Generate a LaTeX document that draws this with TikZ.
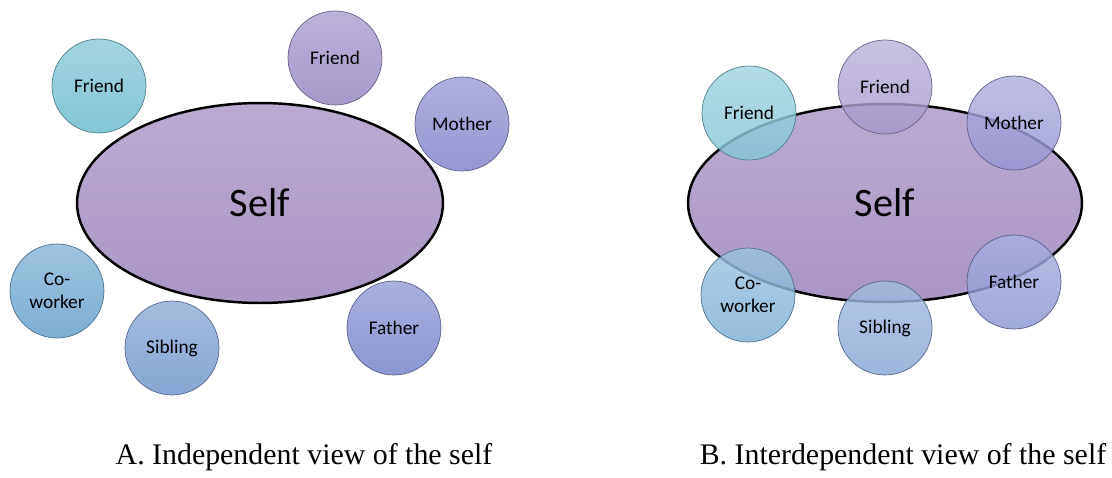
\documentclass[tikz,border=0pt]{standalone}
\usepackage{fontspec}
\setmainfont{Liberation Serif}
\newfontfamily\calibri{Carlito}
\usetikzlibrary{shapes.geometric}

\definecolor{selfcol}{RGB}{170,150,196}
\definecolor{tealcol}{RGB}{130,198,212}
\definecolor{friendcol}{RGB}{165,153,203}
\definecolor{mothercol}{RGB}{150,150,212}
\definecolor{coworkcol}{RGB}{125,175,212}
\definecolor{siblingcol}{RGB}{135,165,212}
\definecolor{fathercol}{RGB}{140,150,212}

\begin{document}
\begin{tikzpicture}[x=0.02cm, y=-0.02cm,
        every node/.append style={font=\calibri\fontsize{11}{13}\selectfont, text=black},
        every circle node/.append style={minimum size=1.88cm, inner sep=0pt, align=center}]
      \tikzstyle{self} = [ellipse, draw=black, line width=1.4pt,
                          top color=selfcol!80!white, bottom color=selfcol,
                          font=\calibri\fontsize{23}{26}\selectfont]
      \tikzstyle{other} = [circle, draw=#1!65!black, line width=0.4pt,
                           top color=#1!75!white, bottom color=#1]
      \tikzstyle{caption} = [font=\fontsize{17}{20}\selectfont, text=black, anchor=base]
      \useasboundingbox (0,0) rectangle (1112,477);

      % A. independent
      \node (selfA) [self, minimum width=7.32cm, minimum height=4cm] at (260,203) {Self};
      \node (friendtA) [other=tealcol] at (99,86) {Friend};
      \node (friendA) [other=friendcol] at (335,58) {Friend};
      \node (motherA) [other=mothercol] at (462,124) {Mother};
      \node (coworkA) [other=coworkcol] at (57,291) {Co-\\worker};
      \node (siblingA) [other=siblingcol] at (172,348) {Sibling};
      \node (fatherA) [other=fathercol] at (394,328) {Father};

      % B. interdependent
      \node (selfB) [self, minimum width=7.88cm, minimum height=3.96cm] at (885,203) {Self};
      \begin{scope}[every circle node/.append style={fill opacity=0.82, text opacity=1}]
        \node (friendtB) [other=tealcol] at (749,113) {Friend};
        \node (friendB) [other=friendcol] at (885,87) {Friend};
        \node (motherB) [other=mothercol] at (1014,123) {Mother};
        \node (coworkB) [other=coworkcol] at (748,295) {Co-\\worker};
        \node (siblingB) [other=siblingcol] at (885,328) {Sibling};
        \node (fatherB) [other=fathercol] at (1014,282) {Father};
      \end{scope}

      \node (capA) [caption] at (304,464) {A. Independent view of the self};
      \node (capB) [caption] at (903,464) {B. Interdependent view of the self};
    \end{tikzpicture}
\end{document}
